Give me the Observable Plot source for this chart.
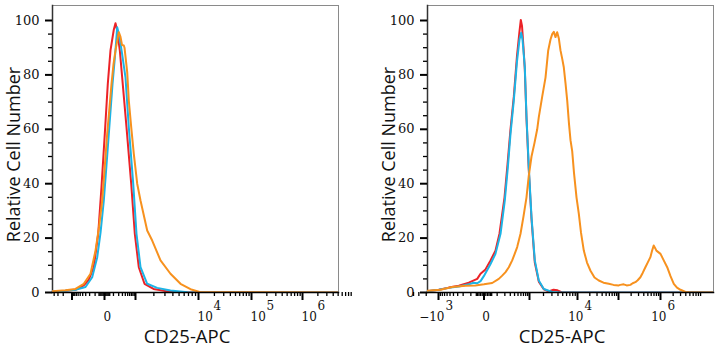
<!DOCTYPE html>
<html><head><meta charset="utf-8">
<script src="https://cdn.jsdelivr.net/npm/d3@7"></script>
<script src="https://cdn.jsdelivr.net/npm/@observablehq/plot@0.6"></script>
<style>
body{margin:0;background:#fff;}
#wrap{position:relative;width:727px;height:350px;background:#fff;}
#left{position:absolute;left:0;top:0;}
#right{position:absolute;left:364px;top:0;}
</style></head><body>
<div id="wrap"><div id="left"></div><div id="right"></div></div>
<script>
// ---------- shared text ----------
const yTitle = "Relative Cell Number";
const xTitle = "CD25-APC";
const seriesNames = ["Isotype", "Unstained", "CD25"];
const seriesColors = ["#ec2227", "#1cb4e6", "#f7911e"];

// ---------- axis ticks ----------
const yMajorTicks = [0, 20, 40, 60, 80, 100];
const yMinorTicks = [5, 10, 15, 25, 30, 35, 45, 50, 55, 65, 70, 75, 85, 90, 95];
const xMajorTicks = [-1000, 0, 1000, 10000, 100000, 1000000];
const xMinorTicks = [-4000, -3000, -2000, -900, -800, -700, -600, -500, -400, -300, -200, -100,
  -50, -40, -30, -20, -10, 10, 20, 30, 40, 50,
  100, 200, 300, 400, 500, 600, 700, 800, 900,
  2000, 3000, 4000, 5000, 6000, 7000, 8000, 9000,
  20000, 30000, 40000, 50000, 60000, 70000, 80000, 90000,
  200000, 300000, 400000, 500000, 600000, 700000, 800000, 900000,
  2000000, 3000000, 4000000, 5000000, 6000000, 7000000, 8000000, 9000000];

// left panel tick labels
const leftLabelValues = [0, 10000, 100000, 1000000];
const leftLabelBase = ["0", "10", "10", "10"];
const leftLabelExp = ["", "4", "5", "6"];
// right panel tick labels
const rightLabelValues = [-1000, 0, 10000, 1000000];
const rightLabelBase = ["\u221210", "0", "10", "10"];
const rightLabelExp = ["3", "", "4", "6"];

// ---------- left panel data (CD25-APC intensity, relative cell number) ----------
const leftRedX = [-4540, -1677, -750, -361, -226, -120, -59, -25, 2.3, 29, 59, 105, 134, 167, 227, 293, 448, 689, 942, 1135, 1410, 1973, 3292, 5260, 10910, 5080000];
const leftRedY = [0.4, 0.6, 1.0, 2.6, 4.5, 9.3, 21.6, 38.7, 58.3, 76.7, 89, 96.6, 99, 96.3, 89, 79, 60.8, 40, 21.6, 9.3, 3.2, 1.3, 0.4, 0.1, 0, 0];
const leftBlueX = [-4540, -1677, -750, -306, -148, -71, -34, -5.3, 17, 39.5, 86, 134, 167, 219, 287, 408, 555, 821, 1039, 1212, 1560, 2261, 3669, 6757, 10910, 5080000];
const leftBlueY = [0.4, 0.6, 1.0, 2.0, 5.6, 13, 22, 33.8, 47, 58.3, 76.7, 89, 97.5, 94, 88, 79, 60.8, 40, 21.6, 9.3, 3.2, 1.7, 0.7, 0.1, 0, 0];
const leftOrangeX = [-4540, -1677, -750, -361, -181, -94, -50, -18.5, 0, 23, 47, 72, 101, 134, 202, 245, 287, 345, 370, 479, 555, 689, 865, 1068, 1212, 1560, 1880, 2552, 3669, 5260, 7520, 10910, 5080000];
const leftOrangeY = [0.5, 0.8, 1.3, 3.2, 6.9, 15.4, 24, 33.8, 45, 58.3, 68, 76.7, 84, 89, 95.7, 94, 91, 90.8, 90, 81, 70.6, 60.8, 51, 40, 33.8, 22.8, 19.1, 11.8, 6.9, 3.2, 1.2, 0.1, 0];

// ---------- right panel data ----------
const rightRedX = [-1864, -983, -539, -277, -123, -43, -20, 8, 41, 83, 126, 195, 245, 304, 381, 469, 549, 596, 641, 702, 759, 839, 960, 1107, 1305, 1590, 2030, 2546, 3233, 3909, 4722, 5702, 18260000];
const rightRedY = [0.5, 1.0, 1.8, 2.5, 3.6, 5.0, 6.9, 8.5, 11.8, 15.4, 21.6, 35, 47, 60, 72, 87, 96, 100.2, 98, 90, 82, 64, 45, 27, 11, 4, 1.2, 0.4, 1.0, 0.8, 0.1, 0, 0];
const rightBlueX = [-1864, -983, -539, -277, -123, -74, -43, -20, -1, 41, 83, 139, 199, 251, 304, 381, 469, 549, 610, 661, 759, 839, 960, 1107, 1305, 1590, 2030, 3039, 4505, 18260000];
const rightBlueY = [0.5, 1.0, 1.7, 2.2, 3.0, 3.6, 3.4, 4.2, 6.0, 10.5, 14.2, 21.6, 33.8, 46, 58.3, 70.6, 85, 93, 95.5, 93, 82.8, 64.5, 46, 27.7, 11.8, 4.4, 1.3, 0.2, 0, 0];
const rightOrangeX = [-1864, -890, -434, -165, -57, 0, 54, 118, 161, 211, 270, 342, 399, 475, 585, 702, 839, 960, 1107, 1286, 1470, 1590, 1878, 2204, 2510, 2802, 3039, 3279, 3555, 3854, 4157, 4505, 4881, 5264, 5702, 6176, 6719, 7210, 7806, 8492, 9543, 10762, 12186, 14269, 17086, 20797, 26040, 33160, 43160, 58090, 75620, 101600, 109600, 132900, 156650, 191900, 217700, 252400, 286300, 332000, 376600, 436800, 495400, 574500, 634100, 688400, 747300, 798200, 1000000, 1178500, 1443600, 1730000, 2073000, 2470600, 2994500, 3938000, 5178000, 18260000];
const rightOrangeY = [0.6, 1.0, 2.0, 2.5, 2.6, 3.0, 3.5, 5.0, 6.2, 7.5, 9.3, 11.8, 14, 16.7, 21.6, 28, 35, 43, 50, 55, 60, 64.5, 72, 79, 89, 93, 95, 95.8, 93.9, 95.7, 93.5, 89, 86, 82.8, 77, 70.6, 62, 56, 52, 44, 35, 29, 22, 15.4, 11, 8, 5.5, 4.4, 3.6, 3.2, 2.8, 2.6, 2.8, 3.0, 2.6, 2.8, 3.4, 3.8, 4.5, 5.6, 7.2, 9.3, 11, 13, 15.5, 17.3, 16.3, 15.4, 14.2, 12, 9.3, 6, 3.2, 1.8, 1, 0.2, 0, 0];

function rows(xs, ys, name) { return xs.map((x, i) => ({x, y: ys[i], s: name})); }

function panel(o) {
  const data = [
    ...rows(o.red[0], o.red[1], seriesNames[0]),
    ...rows(o.blue[0], o.blue[1], seriesNames[1]),
    ...rows(o.orange[0], o.orange[1], seriesNames[2])
  ];
  const serif = "DejaVu Serif";
  const sans = "Open Sans";
  return Plot.plot({
    width: o.width, height: 350,
    marginLeft: o.ml, marginRight: o.mr, marginTop: 5, marginBottom: 58,
    style: {background: "white", overflow: "visible", fontFamily: serif},
    x: {type: "symlog", constant: 100, domain: xMajorTicks, range: o.xRange},
    y: {domain: [0, 100], range: [292, 20]},
    color: {domain: seriesNames, range: seriesColors},
    marks: [
      Plot.frame({stroke: "#8a8a8a", strokeWidth: 1}),
      Plot.frame({anchor: "left", stroke: "#333", strokeWidth: 1.5}),
      Plot.line(data, {x: "x", y: "y", z: "s", stroke: "s", strokeWidth: 2, clip: true}),
      Plot.frame({anchor: "bottom", stroke: "#000", strokeWidth: 1.5}),
      Plot.axisY({ticks: yMajorTicks, tickSize: 7, tickPadding: 6, strokeWidth: 2, fontSize: 13, fontFamily: serif, fill: "#111", label: null}),
      Plot.axisY({ticks: yMinorTicks, tickSize: 4, strokeWidth: 1.3, tickFormat: () => "", label: null}),
      Plot.axisX({ticks: xMajorTicks, tickSize: 8, strokeWidth: 2, tickFormat: () => "", label: null}),
      Plot.axisX({ticks: xMinorTicks, tickSize: 4, strokeWidth: 1.3, tickFormat: () => "", label: null}),
      Plot.text(o.labelValues, {x: d => d, text: (d, i) => o.labelBase[i], frameAnchor: "bottom", lineAnchor: "middle",
        textAnchor: o.baseAnchor, dx: o.baseDx, dy: 25, fontSize: 12, fontFamily: serif, fill: "#111"}),
      Plot.text(o.labelValues, {x: d => d, text: (d, i) => o.labelExp[i], frameAnchor: "bottom", lineAnchor: "middle",
        textAnchor: "start", dx: o.expDx, dy: 14, fontSize: 12, fontFamily: serif, fill: "#111"}),
      Plot.text([yTitle], {text: d => d, frameAnchor: "left", textAnchor: "middle", rotate: -90, lineAnchor: "middle", dx: -38.5, dy: 5.5,
        fontSize: 18, fontFamily: sans, fill: "#111"}),
      Plot.text([xTitle], {text: d => d, frameAnchor: "bottom", textAnchor: "middle", lineAnchor: "middle", dx: -8.5, dy: 44.5,
        fontSize: 18.5, fontFamily: sans, fill: "#111"})
    ]
  });
}

document.getElementById("left").appendChild(panel({
  width: 364, ml: 52, mr: 26,
  xRange: [71.5, 104, 135, 198, 251, 302],
  red: [leftRedX, leftRedY], blue: [leftBlueX, leftBlueY], orange: [leftOrangeX, leftOrangeY],
  labelValues: leftLabelValues, labelBase: leftLabelBase, labelExp: leftLabelExp,
  baseAnchor: "start", baseDx: -1, expDx: 15
}));
document.getElementById("right").appendChild(panel({
  width: 363, ml: 63, mr: 14,
  xRange: [74, 119.5, 165, 213, 254, 296],
  red: [rightRedX, rightRedY], blue: [rightBlueX, rightBlueY], orange: [rightOrangeX, rightOrangeY],
  labelValues: rightLabelValues, labelBase: rightLabelBase, labelExp: rightLabelExp,
  baseAnchor: "end", baseDx: 6, expDx: 7
}));
</script>
</body></html>
